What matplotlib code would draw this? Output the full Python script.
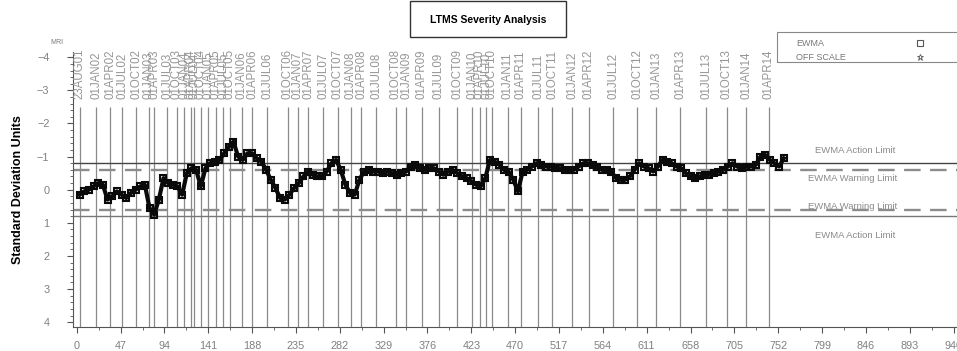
import numpy as np
import matplotlib
matplotlib.use("Agg")
import matplotlib.pyplot as plt
from matplotlib.patches import Rectangle
from matplotlib.ticker import MultipleLocator
from matplotlib.lines import Line2D

plt.rcParams['font.family'] = ['Liberation Sans', 'DejaVu Sans']

# EWMA severity, one value every 5 tests starting at test 3
ewma = [0.15, 0.05, 0.0, -0.1, -0.2, -0.15, 0.3, 0.2, 0.05, 0.15,
        0.25, 0.1, 0.0, -0.1, -0.15, 0.55, 0.75, 0.3, -0.35, -0.2,
        -0.15, -0.1, 0.15, -0.5, -0.65, -0.6, -0.1, -0.65, -0.8, -0.85,
        -0.9, -1.1, -1.3, -1.45, -1.0, -0.9, -1.1, -1.1, -0.95, -0.85,
        -0.6, -0.3, -0.05, 0.25, 0.3, 0.15, -0.05, -0.2, -0.4, -0.55,
        -0.45, -0.4, -0.4, -0.55, -0.8, -0.9, -0.6, -0.15, 0.1, 0.15,
        -0.3, -0.55, -0.6, -0.55, -0.55, -0.5, -0.55, -0.5, -0.45, -0.5,
        -0.55, -0.7, -0.75, -0.65, -0.6, -0.65, -0.65, -0.55, -0.45, -0.55,
        -0.6, -0.5, -0.4, -0.35, -0.25, -0.15, -0.1, -0.35, -0.9, -0.85,
        -0.75, -0.6, -0.55, -0.3, 0.05, -0.55, -0.6, -0.7, -0.8, -0.75,
        -0.7, -0.7, -0.65, -0.65, -0.6, -0.6, -0.6, -0.7, -0.8, -0.8,
        -0.75, -0.7, -0.6, -0.6, -0.55, -0.35, -0.3, -0.3, -0.4, -0.6,
        -0.8, -0.7, -0.65, -0.55, -0.7, -0.9, -0.85, -0.8, -0.7, -0.65,
        -0.5, -0.4, -0.35, -0.4, -0.45, -0.45, -0.5, -0.55, -0.6, -0.7,
        -0.8, -0.7, -0.65, -0.7, -0.7, -0.75, -1.0, -1.05, -0.9, -0.8,
        -0.7, -0.95]
tests = np.arange(3, 3 + 5 * len(ewma), 5)

# calendar markers (test number where each date falls)
date_labels = ['23AUG01', '01JAN02', '01APR02', '01JUL02', '01OCT02',
               '01JAN03', '01APR03', '01JUL03', '01OCT03',
               '01JAN04', '01APR04', '01JUL04', '01OCT04',
               '01JAN05', '01APR05', '01JUL05', '01OCT05',
               '01JAN06', '01APR06', '01JUL06', '01OCT06',
               '01JAN07', '01APR07', '01JUL07', '01OCT07',
               '01JAN08', '01APR08', '01JUL08', '01OCT08',
               '01JAN09', '01APR09', '01JUL09', '01OCT09',
               '01JAN10', '01APR10', '01JUL10', '01OCT10',
               '01JAN11', '01APR11', '01JUL11', '01OCT11',
               '01JAN12', '01APR12', '01JUL12', '01OCT12',
               '01JAN13', '01APR13', '01JUL13', '01OCT13',
               '01JAN14', '01APR14']
date_pos = [3, 21, 36, 49, 64, 77, 83, 97, 107, 115, 122, 126, 133,
            141, 149, 157, 164, 177, 188, 204, 226, 237, 248, 264, 280,
            294, 305, 321, 342, 353, 370, 388, 408, 424, 432, 439, 445,
            462, 476, 495, 510, 531, 549, 575, 601, 621, 647, 675, 697,
            718, 742]

action_limit = 0.8
warning_limit = 0.6
x_ticks = list(range(0, 941, 47))

fig = plt.figure(figsize=(9.57, 3.51), dpi=100)
ax = fig.add_axes([0.0763, 0.068, 0.924, 0.783])

ax.set_xlim(-4, 944)
ax.set_ylim(4.15, -4.15)

# date lines + labels
ax.vlines(date_pos, -2.5, 4.15, color='#8a8a8a', lw=0.9, zorder=1)
for lab, pos in zip(date_labels, date_pos):
    ax.text(pos, -2.75, lab, rotation=90, ha='center', va='bottom',
            fontsize=8.3, color='#969696', clip_on=False)

# limits
ax.axhline(-action_limit, color='#444444', lw=1.0, zorder=2)
ax.axhline(action_limit, color='#777777', lw=1.0, zorder=2)
ax.axhline(-warning_limit, color='#8c8c8c', lw=1.7, ls=(0, (7, 4)), zorder=2)
ax.axhline(warning_limit, color='#8c8c8c', lw=1.7, ls=(0, (7, 4)), zorder=2)

lim_txt = dict(fontsize=6.8, color='#8a8a8a', ha='center', va='center')
ax.text(835, -1.18, 'EWMA Action Limit', **lim_txt)
ax.text(832, -0.33, 'EWMA Warning Limit', **lim_txt)
ax.text(832, 0.52, 'EWMA Warning Limit', **lim_txt)
ax.text(835, 1.39, 'EWMA Action Limit', **lim_txt)

# EWMA series
ax.plot(tests, ewma, color='#0a0a0a', lw=3.0, marker='s', ms=5,
        mfc='none', mec='#0a0a0a', mew=1.5, zorder=4)

# axes styling
for s in ['top', 'right']:
    ax.spines[s].set_visible(False)
for s in ['left', 'bottom']:
    ax.spines[s].set_color('#555555')
    ax.spines[s].set_linewidth(0.8)
ax.set_xticks(x_ticks)
ax.xaxis.set_minor_locator(MultipleLocator(23.5))
ax.set_yticks(range(-4, 5))
ax.yaxis.set_minor_locator(MultipleLocator(0.2))
ax.tick_params(which='major', length=4, color='#555555', labelsize=7.8,
               labelcolor='#808080')
ax.tick_params(which='minor', length=2, color='#555555')
ax.tick_params(axis='y', pad=13)
ax.tick_params(axis='x', pad=6)

ax.set_ylabel('Standard Deviation Units', fontsize=9, fontweight='bold')
ax.yaxis.set_label_coords(-0.055, 0.5)
fig.text(57 / 957, 1 - 43 / 351, 'MRI', fontsize=5, color='#777777',
         ha='center', va='center')

# title box
fig.add_artist(Rectangle((410 / 957, 1 - 37 / 351), 156 / 957, 36 / 351,
                         transform=fig.transFigure, fill=False,
                         ec='#333333', lw=1.0))
fig.text(488 / 957, 1 - 20 / 351, 'LTMS Severity Analysis', fontsize=7.5,
         fontweight='bold', ha='center', va='center')

# legend box
fig.add_artist(Rectangle((777 / 957, 1 - 62 / 351), 200 / 957, 30 / 351,
                         transform=fig.transFigure, fill=False,
                         ec='#888888', lw=0.8, clip_on=False))
fig.text(796 / 957, 1 - 43 / 351, 'EWMA', fontsize=6.5, color='#777777',
         va='center')
fig.text(796 / 957, 1 - 57 / 351, 'OFF SCALE', fontsize=6.5, color='#777777',
         va='center')
fig.add_artist(Line2D([920 / 957], [1 - 43 / 351], transform=fig.transFigure,
                      marker='s', ms=4, mfc='none', mec='#555555', mew=0.8))
fig.add_artist(Line2D([920 / 957], [1 - 57 / 351], transform=fig.transFigure,
                      marker='*', ms=5, mfc='none', mec='#555555', mew=0.6))

fig.savefig('out.png', dpi=100)
